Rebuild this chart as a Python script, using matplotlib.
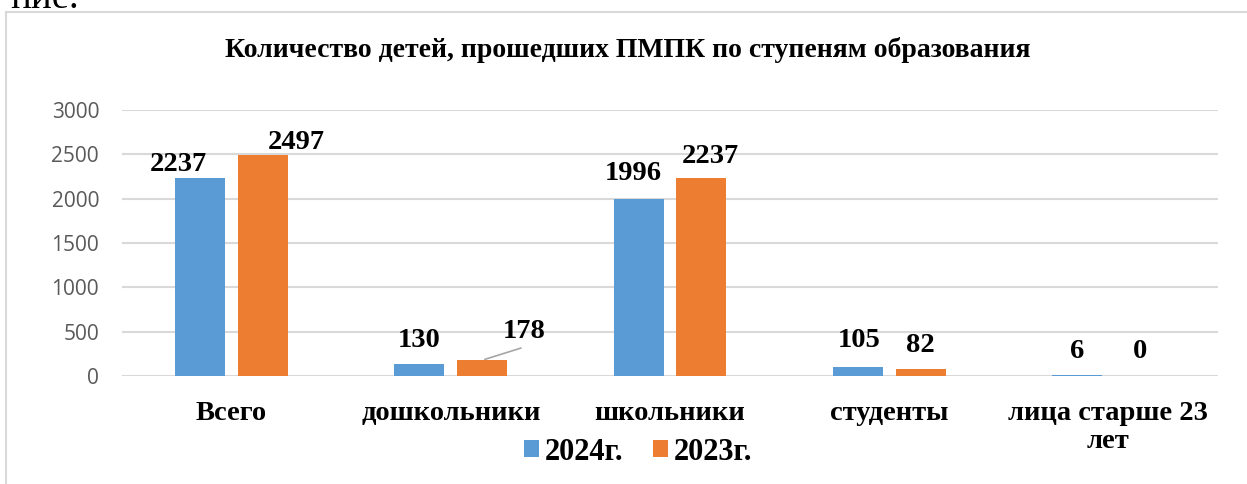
import matplotlib
matplotlib.use("Agg")
import matplotlib.pyplot as plt
import numpy as np
from matplotlib.patches import Rectangle

categories = ["Всего", "дошкольники", "школьники", "студенты", "лица старше 23\nлет"]
vals_2024 = [2237, 130, 1996, 105, 6]
vals_2023 = [2497, 178, 2237, 82, 0]
series_names = ["2024г.", "2023г."]
title = "Количество детей, прошедших ПМПК по ступеням образования"

blue = "#5B9BD5"
orange = "#ED7D31"
grid_col = "#D9D9D9"

W, H = 1247, 484
fig = plt.figure(figsize=(W / 100, H / 100), dpi=100)
ax = fig.add_axes([122 / W, 1 - 376 / H, (1218 - 122) / W, (376 - 110) / H])

x = np.arange(len(categories))
bw = 0.228
off = 0.143
b1 = ax.bar(x - off, vals_2024, bw, color=blue, label=series_names[0], zorder=3)
b2 = ax.bar(x + off, vals_2023, bw, color=orange, label=series_names[1], zorder=3)

ax.set_xlim(-0.5, len(categories) - 0.5)
ax.set_ylim(0, 3000)
ax.set_yticks(range(0, 3001, 500))
ax.grid(axis="y", color=grid_col, linewidth=1.5, zorder=0)
for s in ax.spines.values():
    s.set_visible(False)
ax.tick_params(axis="both", length=0)
ax.tick_params(axis="y", labelsize=15, labelcolor="#595959", pad=16.5)
for lab in ax.get_yticklabels():
    lab.set_family("Open Sans")

ax.set_xticks(x)
ax.set_xticklabels(categories, family="Liberation Serif", fontweight="bold",
                   fontsize=20.5, linespacing=1.15)
ax.tick_params(axis="x", pad=18)

# label offsets in pixels (dx, dy) from bar top to text baseline
offs_2024 = [(-22, 7), (0, 17), (-5, 19), (1, 20), (0, 17.5)]
offs_2023 = [(33, 6), (42.5, 22), (9, 15), (0, 17), (0, 18)]
lab_kw = dict(textcoords="offset pixels", ha="center", va="baseline",
              family="Liberation Serif", fontweight="bold", fontsize=20.5)
for bars, vals, offs in [(b1, vals_2024, offs_2024), (b2, vals_2023, offs_2023)]:
    for r, v, (dx, dy) in zip(bars, vals, offs):
        xc = r.get_x() + r.get_width() / 2
        ax.annotate(str(v), (xc, v), xytext=(dx, dy), **lab_kw)

# leader line for 178
r = b2[1]
ax.annotate("", (r.get_x() + r.get_width() / 2, vals_2023[1]), xytext=(41.5, 13),
            textcoords="offset pixels",
            arrowprops=dict(arrowstyle="-", color="#A6A6A6", lw=1.2))

fig.text(628 / W, 1 - 50 / H, title, ha="center", va="center",
         family="Liberation Serif", fontweight="bold", fontsize=20)

leg = fig.legend(handles=[b1, b2], loc="center", bbox_to_anchor=(638 / W, 1 - 452 / H),
                 ncol=2, frameon=False, handlelength=0.5, handleheight=0.5,
                 handletextpad=0.2, columnspacing=0.95,
                 prop=dict(family="Liberation Serif", weight="bold", size=22))

# document frame and cut-off text above
fig.add_artist(Rectangle((6 / W, -0.1), 2, (H - 12) / H + 0.1, transform=fig.transFigure,
                         fill=False, edgecolor=grid_col, linewidth=1.5))
fig.text(10 / W, 1 - 8 / H, "ние.", ha="left", va="baseline",
         family="Liberation Serif", fontsize=28)

fig.savefig("out.png", dpi=100)
